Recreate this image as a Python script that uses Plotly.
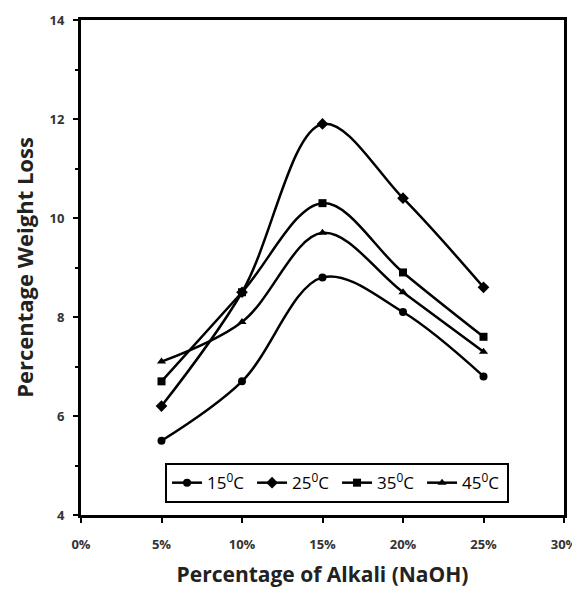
import plotly.graph_objects as go

x_vals = [0.05, 0.10, 0.15, 0.20, 0.25]
t15 = [5.5, 6.7, 8.8, 8.1, 6.8]
t25 = [6.2, 8.5, 11.9, 10.4, 8.6]
t35 = [6.7, 8.5, 10.3, 8.9, 7.6]
t45 = [7.1, 7.9, 9.7, 8.5, 7.3]
names = ["15<sup>0</sup>C", "25<sup>0</sup>C", "35<sup>0</sup>C", "45<sup>0</sup>C"]
symbols = ["circle", "diamond", "square", "triangle-up"]
series = [t15, t25, t35, t45]
x_ticks = [0, 0.05, 0.10, 0.15, 0.20, 0.25, 0.30]
y_ticks = [4, 6, 8, 10, 12, 14]

FONT = "Open Sans"
fig = go.Figure()
for nm, sym, ys in zip(names, symbols, series):
    fig.add_trace(go.Scatter(
        x=x_vals, y=ys, name=nm, mode="lines+markers",
        line=dict(color="black", width=2.5, shape="spline", smoothing=1.0),
        marker=dict(symbol=sym, size=8 if sym != "diamond" else 9, color="black"),
    ))

fig.update_layout(
    width=580, height=582,
    margin=dict(l=73, r=24, t=12, b=75),
    plot_bgcolor="white", paper_bgcolor="white",
    font=dict(family=FONT, color="black"),
    showlegend=True,
    legend=dict(
        orientation="h", x=0.174, y=0.024, xanchor="left", yanchor="bottom",
        bordercolor="black", borderwidth=2, bgcolor="white",
        font=dict(size=17, family=FONT, color="black"),
        itemwidth=30, tracegroupgap=0, entrywidth=40, entrywidthmode="pixels",
    ),
)
fig.update_xaxes(
    range=[0, 0.30], tickvals=x_ticks, tickformat=".0%", automargin=False,
    showgrid=False, zeroline=False,
    showline=True, linecolor="black", linewidth=3, mirror=True,
    ticks="outside", tickwidth=2, ticklen=5, tickcolor="black", ticklabelstandoff=10,
    tickfont=dict(size=13, family=FONT, color="#333", weight="bold"),
    title=dict(text="Percentage of Alkali (NaOH)", font=dict(size=21, family=FONT, color="#222", weight="bold"), standoff=16),
)
fig.update_yaxes(
    range=[4, 14], tickvals=y_ticks, automargin=False,
    showgrid=False, zeroline=False,
    showline=True, linecolor="black", linewidth=3, mirror=True,
    ticks="outside", tickwidth=2, ticklen=5, tickcolor="black", ticklabelstandoff=6,
    minor=dict(dtick=1, ticks="outside", ticklen=3, tickwidth=1.5, tickcolor="black", showgrid=False),
    tickfont=dict(size=13, family=FONT, color="#333", weight="bold"),
    title=dict(text="Percentage Weight Loss", font=dict(size=22, family=FONT, color="#222", weight="bold"), standoff=10),
)
fig.write_html("out.html")
